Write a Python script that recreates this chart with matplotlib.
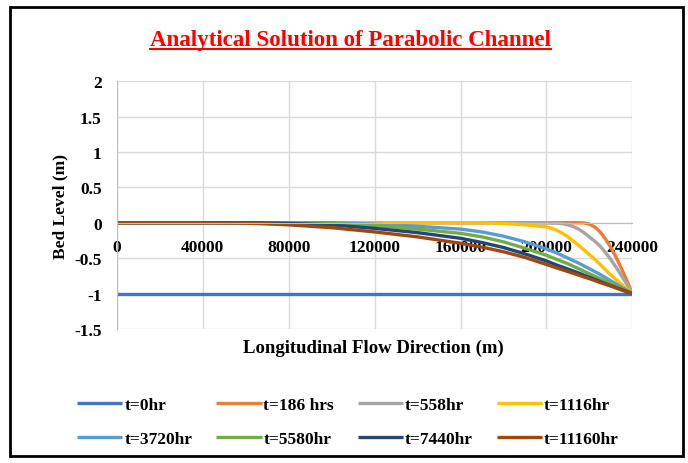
import matplotlib
matplotlib.use('Agg')
from matplotlib import pyplot as plt
from matplotlib.lines import Line2D
from matplotlib.patches import Rectangle

# Data
distance = [0, 20000, 40000, 60000, 80000, 100000, 120000, 140000, 150000,
            160000, 170000, 180000, 190000,
            200000, 202500, 205000, 207500, 210000, 212500, 215000, 217500,
            220000, 222500, 225000, 227500, 230000, 232500, 235000, 237500,
            240000]
labels = ['t=0hr', 't=186 hrs', 't=558hr', 't=1116hr',
          't=3720hr', 't=5580hr', 't=7440hr', 't=11160hr']
t0 = [-1.0] * len(distance)
t186 = [0] * 13 + [0, 0, 0, 0, 0, 0, 0, -0.003, -0.02, -0.06, -0.13, -0.23,
                   -0.35, -0.49, -0.65, -0.82, -1.0]
t558 = [0] * 13 + [0, -0.002, -0.006, -0.015, -0.03, -0.055, -0.09, -0.14,
                   -0.2, -0.26, -0.33, -0.42, -0.52, -0.63, -0.75, -0.87, -1.0]
t1116 = [0] * 11 + [-0.01, -0.03,
                    -0.06, -0.08, -0.11, -0.15, -0.2, -0.26, -0.32, -0.385,
                    -0.45, -0.52, -0.59, -0.665, -0.74, -0.805, -0.87, -0.935, -1.0]
t3720 = [0, 0, 0, 0, 0, 0, -0.02, -0.05, -0.07, -0.09, -0.13, -0.19, -0.27,
         -0.37, -0.4, -0.43, -0.465, -0.5, -0.535, -0.57, -0.61,
         -0.65, -0.69, -0.73, -0.775, -0.82, -0.865, -0.91, -0.955, -1.0]
t5580 = [0, 0, 0, 0, 0, -0.01, -0.04, -0.09, -0.12, -0.15, -0.2, -0.27, -0.36,
         -0.46, -0.49, -0.52, -0.55, -0.58, -0.615, -0.65, -0.685,
         -0.72, -0.755, -0.79, -0.825, -0.86, -0.895, -0.93, -0.965, -1.0]
t7440 = [0, 0, 0, 0, -0.01, -0.03, -0.08, -0.14, -0.18, -0.22, -0.28, -0.35, -0.44,
         -0.54, -0.57, -0.6, -0.627, -0.655, -0.682, -0.71, -0.74,
         -0.77, -0.8, -0.83, -0.86, -0.89, -0.917, -0.945, -0.972, -1.0]
t11160 = [0, 0, 0, -0.005, -0.03, -0.07, -0.13, -0.2, -0.245, -0.29, -0.345, -0.41, -0.49,
          -0.59, -0.615, -0.64, -0.665, -0.69, -0.715, -0.74, -0.765,
          -0.79, -0.817, -0.845, -0.87, -0.895, -0.922, -0.95, -0.975, -1.0]
series = [t0, t186, t558, t1116, t3720, t5580, t7440, t11160]
colors = ['#4472C4', '#ED7D31', '#A5A5A5', '#FFC000',
          '#5B9BD5', '#70AD47', '#264478', '#9E480E']
x_ticks = [0, 40000, 80000, 120000, 160000, 200000, 240000]
y_ticks = [-1.5, -1, -0.5, 0, 0.5, 1, 1.5, 2]

plt.rcParams['font.family'] = ['Liberation Serif', 'DejaVu Serif']
plt.rcParams['font.weight'] = 'bold'
FS = 12.5

fig = plt.figure(figsize=(6.88, 4.64), dpi=100)
ax = fig.add_axes([0.170, 0.289, 0.749, 0.534])

for vals, lab, col in zip(series, labels, colors):
    ax.plot(distance, vals, color=col, lw=2.4, label=lab, solid_capstyle='butt')

ax.set_xlim(0, 240000)
ax.set_ylim(-1.5, 2)
ax.set_xticks(x_ticks)
ax.set_xticklabels([str(v) for v in x_ticks])
ax.set_yticks(y_ticks)
ax.set_yticklabels(['%g' % v for v in y_ticks])
ax.grid(True, color='#D9D9D9', lw=1)
ax.set_axisbelow(True)
for s in ['top', 'right']:
    ax.spines[s].set_visible(False)
ax.spines['left'].set_color('#BFBFBF')
ax.spines['bottom'].set_color('#BFBFBF')
ax.spines['bottom'].set_position(('data', 0))
ax.tick_params(axis='both', length=0, labelsize=FS, colors='black')
ax.tick_params(axis='y', pad=11)
ax.tick_params(axis='x', pad=12)

ax.set_ylabel('Bed Level (m)', fontsize=FS, fontweight='bold', labelpad=4)
fig.text(0.543, 0.25, 'Longitudinal Flow Direction (m)', fontsize=13.5,
         fontweight='bold', ha='center', va='center')

title = fig.text(0.509, 0.913, 'Analytical Solution of Parabolic Channel',
                 fontsize=16.5, fontweight='bold', color='#FF0000',
                 ha='center', va='center')
fig.canvas.draw()
bb = title.get_window_extent().transformed(fig.transFigure.inverted())
fig.add_artist(Line2D([bb.x0, bb.x1], [bb.y0 + 0.002, bb.y0 + 0.002],
                      color='#FF0000', lw=1.5))

# legend filled row by row like the original
handles, labs = ax.get_legend_handles_labels()
order = [0, 4, 1, 5, 2, 6, 3, 7]
fig.legend([handles[i] for i in order], [labs[i] for i in order],
           loc='center', ncol=4, bbox_to_anchor=(0.506, 0.088), frameon=False,
           fontsize=FS, handlelength=2.6, handletextpad=0.1,
           columnspacing=1.4, labelspacing=1.0)

fig.add_artist(Rectangle((0.015, 0.015), 0.978, 0.968, transform=fig.transFigure,
                         fill=False, edgecolor='black', lw=2))

fig.savefig('out.png', dpi=100)
